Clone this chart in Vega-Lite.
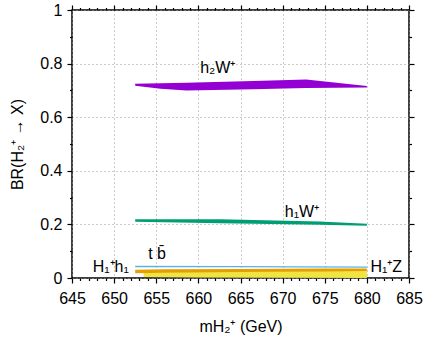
{
  "$schema": "https://vega.github.io/schema/vega-lite/v6.json",
  "width": 337,
  "height": 268,
  "autosize": {"type": "none"},
  "padding": {"left": 72, "top": 10, "right": 17, "bottom": 63},
  "background": "white",
  "config": {
    "font": "Liberation Sans",
    "view": {"stroke": "black", "strokeWidth": 1.5},
    "axis": {"labelFont": "Liberation Sans", "titleFont": "Liberation Sans", "labelFontSize": 16, "titleFontSize": 16, "titleFontWeight": "normal", "labelColor": "black", "titleColor": "black", "domain": false, "ticks": true, "tickColor": "black", "tickWidth": 1.2, "labelFlush": false, "labelOverlap": false, "zindex": 1}
  },
  "datasets": {
    "bands": [
      {"series": "yellow", "m": 653.5, "lo": 0.004, "hi": 0.02},
      {"series": "yellow", "m": 660, "lo": 0.002, "hi": 0.023},
      {"series": "yellow", "m": 670, "lo": 0.001, "hi": 0.025},
      {"series": "yellow", "m": 680, "lo": 0.0, "hi": 0.027},
      {"series": "orange", "m": 652.5, "lo": 0.018, "hi": 0.031},
      {"series": "orange", "m": 656, "lo": 0.02, "hi": 0.033},
      {"series": "orange", "m": 665, "lo": 0.022, "hi": 0.034},
      {"series": "orange", "m": 675, "lo": 0.024, "hi": 0.035},
      {"series": "orange", "m": 680, "lo": 0.026, "hi": 0.035},
      {"series": "blue", "m": 652.5, "lo": 0.04, "hi": 0.046},
      {"series": "blue", "m": 665, "lo": 0.04, "hi": 0.045},
      {"series": "blue", "m": 680, "lo": 0.038, "hi": 0.043},
      {"series": "green", "m": 652.5, "lo": 0.21, "hi": 0.219},
      {"series": "green", "m": 662.6, "lo": 0.204, "hi": 0.219},
      {"series": "green", "m": 674.4, "lo": 0.199, "hi": 0.211},
      {"series": "green", "m": 680, "lo": 0.195, "hi": 0.202},
      {"series": "purple", "m": 652.5, "lo": 0.717, "hi": 0.725},
      {"series": "purple", "m": 655.5, "lo": 0.706, "hi": 0.727},
      {"series": "purple", "m": 658.6, "lo": 0.7, "hi": 0.729},
      {"series": "purple", "m": 666.5, "lo": 0.704, "hi": 0.735},
      {"series": "purple", "m": 672.8, "lo": 0.709, "hi": 0.741},
      {"series": "purple", "m": 676.4, "lo": 0.71, "hi": 0.729},
      {"series": "purple", "m": 680, "lo": 0.711, "hi": 0.716}
    ],
    "labels": [
      {"m": 662.3, "br": 0.782, "text": "h₂W⁺"},
      {"m": 672.3, "br": 0.245, "text": "h₁W⁺"},
      {"m": 655.1, "br": 0.09, "text": "t b̄"},
      {"m": 649.6, "br": 0.042, "text": "H₁⁺h₁"},
      {"m": 682.3, "br": 0.042, "text": "H₁⁺Z"}
    ]
  },
  "layer": [
    {
      "data": {"name": "bands"},
      "mark": {"type": "area", "opacity": 1},
      "encoding": {
        "x": {"field": "m", "type": "quantitative", "scale": {"domain": [645, 685], "nice": false, "zero": false},
          "axis": {"orient": "bottom", "title": "mH₂⁺ (GeV)", "titlePadding": 12,
            "values": [645,646,647,648,649,650,651,652,653,654,655,656,657,658,659,660,661,662,663,664,665,666,667,668,669,670,671,672,673,674,675,676,677,678,679,680,681,682,683,684,685],
            "labelExpr": "datum.value % 5 === 0 ? datum.label : ''", "labelPadding": 7,
            "tickSize": {"condition": {"test": "datum.value % 5 === 0", "value": 5}, "value": 2.5},
            "grid": true, "gridDash": [1, 3], "gridColor": "#999999",
            "gridOpacity": {"condition": {"test": "datum.value % 5 === 0", "value": 1}, "value": 0}}},
        "y": {"field": "lo", "type": "quantitative", "scale": {"domain": [0, 1], "nice": false},
          "axis": {"orient": "left", "title": "BR(H₂⁺ → X)", "titlePadding": 14, "format": ".1~f",
            "values": [0,0.1,0.2,0.3,0.4,0.5,0.6,0.7,0.8,0.9,1],
            "labelExpr": "round(datum.value*10) % 2 === 0 ? datum.label : ''", "labelPadding": 5,
            "tickSize": {"condition": {"test": "round(datum.value*10) % 2 === 0", "value": 5}, "value": 2.5},
            "grid": true, "gridDash": [1, 3], "gridColor": "#999999",
            "gridOpacity": {"condition": {"test": "round(datum.value*10) % 2 === 0", "value": 1}, "value": 0}}},
        "y2": {"field": "hi"},
        "color": {"field": "series", "type": "nominal", "legend": null,
          "scale": {"domain": ["yellow", "orange", "blue", "green", "purple"], "range": ["#F0E442", "#E69F00", "#56B4E9", "#009E73", "#9400D3"]}},
        "order": {"field": "series"}
      }
    },
    {
      "data": {"name": "labels"},
      "mark": {"type": "text", "font": "Liberation Sans", "fontSize": 16, "color": "black", "baseline": "middle", "align": "center"},
      "encoding": {
        "x": {"field": "m", "type": "quantitative",
          "axis": {"orient": "top", "title": null, "labels": false, "grid": false,
            "values": [645,646,647,648,649,650,651,652,653,654,655,656,657,658,659,660,661,662,663,664,665,666,667,668,669,670,671,672,673,674,675,676,677,678,679,680,681,682,683,684,685],
            "tickSize": {"condition": {"test": "datum.value % 5 === 0", "value": 5}, "value": 2.5}}},
        "y": {"field": "br", "type": "quantitative",
          "axis": {"orient": "right", "title": null, "labels": false, "grid": false,
            "values": [0,0.1,0.2,0.3,0.4,0.5,0.6,0.7,0.8,0.9,1],
            "tickSize": {"condition": {"test": "round(datum.value*10) % 2 === 0", "value": 5}, "value": 2.5}}},
        "text": {"field": "text", "type": "nominal"}
      }
    }
  ],
  "resolve": {"axis": {"x": "independent", "y": "independent"}}
}
